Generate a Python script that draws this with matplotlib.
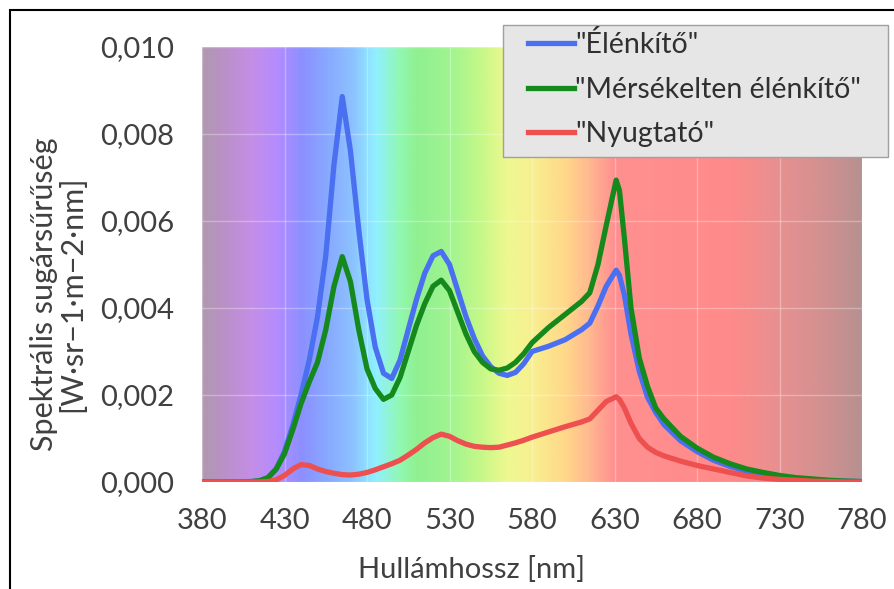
import numpy as np
import matplotlib
matplotlib.use("Agg")
import matplotlib.pyplot as plt
from matplotlib.colors import LinearSegmentedColormap
from matplotlib.patches import Rectangle
from matplotlib.ticker import FuncFormatter, MultipleLocator

plt.rcParams['font.family'] = ['Lato', 'DejaVu Sans']

# wavelength [nm] and spectral radiance [1e-3 W/(sr m2 nm)]
wl = [380, 390, 400, 410, 415, 420, 425, 430, 435, 440,
      445, 450, 455, 460, 465, 470, 475, 480, 485, 490,
      495, 500, 505, 510, 515, 520, 525, 530, 535, 540,
      545, 550, 555, 560, 565, 570, 575, 580, 590, 600,
      610, 615, 620, 625, 631, 633, 636, 640, 645, 650,
      655, 660, 670, 680, 690, 700, 710, 720, 730, 740,
      750, 760, 770, 780]
elenkito = [0, 0, 0, 0.01, 0.03, 0.1, 0.3, 0.7, 1.3, 2.0,
            2.8, 3.8, 5.2, 7.3, 8.86, 7.6, 5.8, 4.2, 3.1, 2.5,
            2.38, 2.8, 3.5, 4.2, 4.8, 5.2, 5.3, 5.0, 4.4, 3.8,
            3.3, 2.9, 2.65, 2.5, 2.45, 2.52, 2.72, 3.0, 3.12, 3.27,
            3.5, 3.65, 4.05, 4.5, 4.87, 4.75, 4.3, 3.4, 2.55, 1.95,
            1.6, 1.32, 0.95, 0.7, 0.5, 0.36, 0.25, 0.17, 0.12, 0.08,
            0.05, 0.03, 0.02, 0.01]
merseklet = [0, 0, 0, 0.01, 0.03, 0.1, 0.3, 0.65, 1.2, 1.8,
             2.3, 2.75, 3.5, 4.5, 5.18, 4.6, 3.5, 2.6, 2.15, 1.9,
             2.0, 2.4, 3.0, 3.6, 4.1, 4.5, 4.64, 4.4, 3.9, 3.4,
             3.0, 2.75, 2.6, 2.57, 2.62, 2.75, 2.95, 3.2, 3.55, 3.85,
             4.15, 4.35, 5.0, 5.9, 6.94, 6.7, 5.6, 4.0, 2.85, 2.2,
             1.7, 1.45, 1.05, 0.78, 0.57, 0.42, 0.3, 0.22, 0.15, 0.1,
             0.07, 0.04, 0.02, 0.01]
nyugtato = [0, 0, 0, 0, 0, 0.01, 0.05, 0.15, 0.3, 0.4,
            0.38, 0.3, 0.24, 0.2, 0.17, 0.16, 0.18, 0.22, 0.28, 0.35,
            0.42, 0.5, 0.62, 0.75, 0.9, 1.02, 1.1, 1.05, 0.95, 0.87,
            0.82, 0.8, 0.79, 0.8, 0.85, 0.9, 0.96, 1.03, 1.15, 1.27,
            1.38, 1.45, 1.65, 1.85, 1.96, 1.9, 1.7, 1.35, 1.0, 0.8,
            0.68, 0.6, 0.48, 0.38, 0.3, 0.22, 0.14, 0.09, 0.06, 0.04,
            0.02, 0.01, 0.0, 0.0]
labels = ['"Élénkítő"', '"Mérsékelten élénkítő"', '"Nyugtató"']
colors = ['#4a6ff0', '#15891c', '#ee4f4f']
xticks = [380, 430, 480, 530, 580, 630, 680, 730, 780]

# spectrum colours behind the plot
spec_stops = [(380, '#b098b0'), (395, '#bc90cc'), (410, '#c48ee8'), (425, '#b48cff'),
              (440, '#8c90ff'), (455, '#88a8ff'), (470, '#8cc0ff'), (485, '#90f0ff'),
              (500, '#90f8b0'), (510, '#90f090'), (530, '#a0f490'), (550, '#c8f888'),
              (565, '#eef890'), (580, '#f8f090'), (600, '#ffd88a'), (615, '#ffb890'),
              (630, '#ff9090'), (700, '#ff8a8a'), (730, '#e89090'), (760, '#d09090'),
              (780, '#b89090')]

W, H = 894, 589
fig = plt.figure(figsize=(W / 100, H / 100), dpi=100)
ax = fig.add_axes([202 / W, 1 - 482 / H, 660 / W, 435 / H])

cmap = LinearSegmentedColormap.from_list(
    'spec', [((w - 380) / 400, c) for w, c in spec_stops])
grad = np.linspace(0, 1, 800).reshape(1, -1)
ax.imshow(grad, cmap=cmap, aspect='auto', extent=[380, 780, 0, 0.010],
          origin='lower', zorder=0, interpolation='bilinear')

x = np.array(wl)
for vals, lab, col in zip([elenkito, merseklet, nyugtato], labels, colors):
    ax.plot(x, np.array(vals) * 1e-3, color=col, lw=3.8, label=lab,
            solid_joinstyle='round', zorder=3)

ax.set_xlim(380, 780)
ax.set_ylim(0, 0.010)
ax.set_xticks(xticks)
ax.yaxis.set_major_locator(MultipleLocator(0.002))
ax.yaxis.set_major_formatter(FuncFormatter(lambda v, p: f"{v:.3f}".replace('.', ',')))
ax.grid(True, color='white', alpha=0.3, lw=1, zorder=1)
ax.set_axisbelow(False)
for s in ax.spines.values():
    s.set_visible(False)
ax.tick_params(length=0, labelsize=21, labelcolor='#404040')
ax.tick_params(axis='y', pad=20)
ax.tick_params(axis='x', pad=19)

fig.text(58 / W, 1 - 294 / H, 'Spektrális sugársűrűség\n[W·sr−1·m−2·nm]',
         rotation=90, ha='center', va='center', fontsize=22, color='#404040',
         linespacing=1.0)
fig.text(472 / W, 1 - 570 / H, 'Hullámhossz [nm]', ha='center', va='center',
         fontsize=21, color='#404040')

# legend box drawn by hand, entries placed inside it
fig.patches.append(Rectangle((503 / W, 1 - 157 / H), 385 / W, 132 / H,
                             transform=fig.transFigure, facecolor='#e6e6e6',
                             edgecolor='#a0a0a0', lw=1, zorder=4))
leg = fig.legend(loc='upper left', bbox_to_anchor=(528 / W, 1 - 31 / H),
                 fontsize=20.5, frameon=False, handlelength=1.6,
                 handletextpad=0.05, labelspacing=0.65, borderpad=0,
                 borderaxespad=0)
leg.set_zorder(5)
for t in leg.get_texts():
    t.set_color('#303030')

fig.patches.append(Rectangle((10 / W, -0.05), 1.1, 1.05 - 10 / H,
                             transform=fig.transFigure, fill=False,
                             edgecolor='black', lw=1.5))

fig.savefig('out.png', dpi=100)
